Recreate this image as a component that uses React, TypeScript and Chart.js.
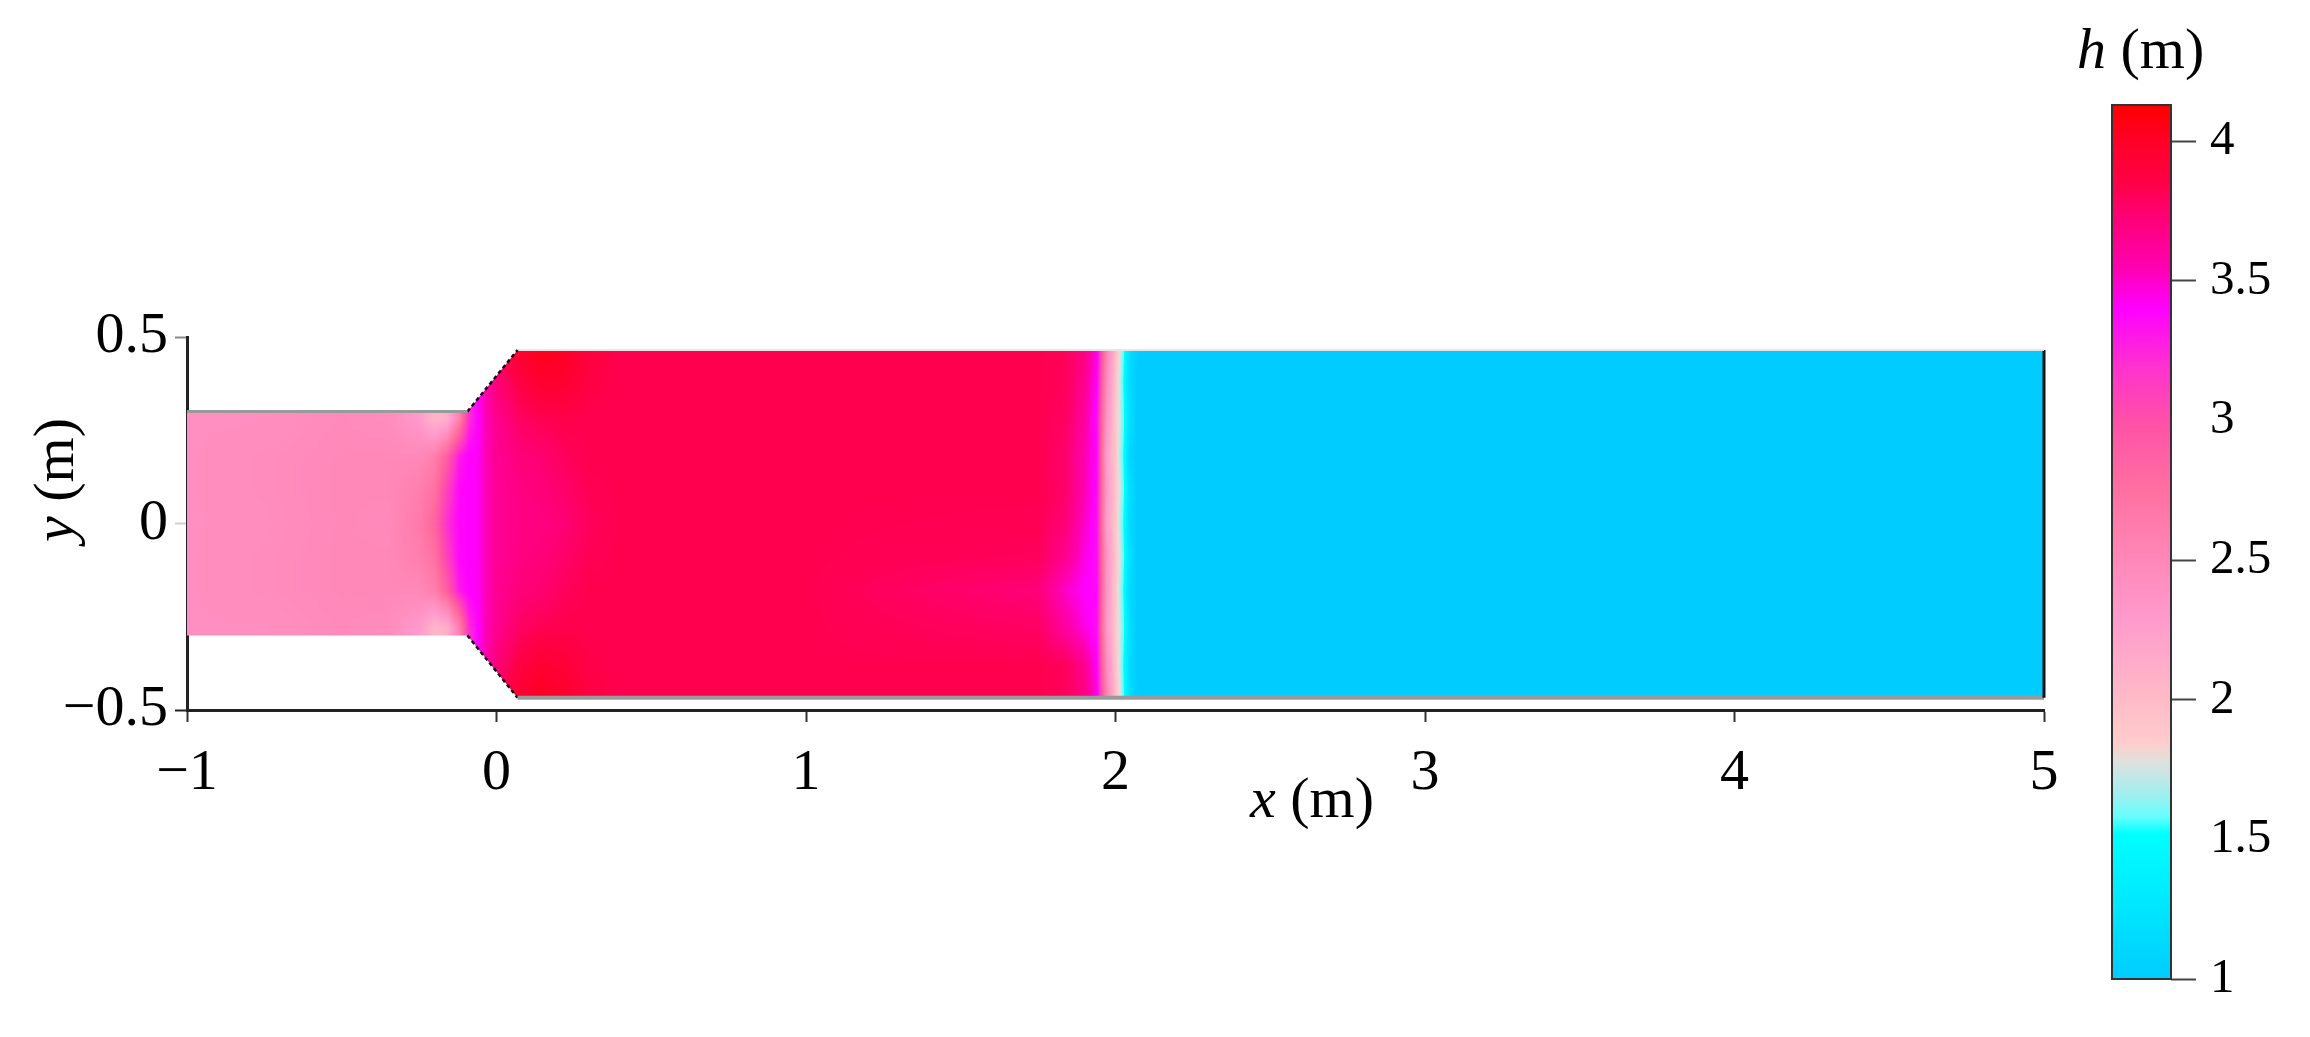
import React, { useEffect, useRef } from "react";
import { Chart, registerables } from "chart.js";
Chart.register(...registerables);

const FONT = "'Liberation Serif', 'Times New Roman', serif";

// axis ticks
const xTicks = [-1, 0, 1, 2, 3, 4, 5];
const yTicks = [-0.5, 0, 0.5];
const cbTicks = [1, 1.5, 2, 2.5, 3, 3.5, 4];
const cbHiddenTicks = [1.5, 3];
const cbMin = 1;
const cbMax = 4.13;

// colour map (h value -> colour)
const cmapValues = [1.0, 1.25, 1.52, 1.58, 1.66, 1.72, 1.78, 1.85, 2.0, 2.3, 2.5, 2.75, 3.0, 3.2, 3.4, 3.55, 3.7, 3.85, 4.0, 4.13];
const cmapColors = ["#00ccff", "#00e6ff", "#00ffff", "#66ffff", "#a0eeee", "#c0e8e8", "#e0e0dc", "#ffcccc", "#ffbbc8", "#ff99cc", "#ff88b8", "#ff70a0", "#ff50a8", "#ff30d0", "#ff00ff", "#ff00b0", "#ff0080", "#ff0048", "#ff0028", "#ff0000"];

// channel outline (x, y in m)
const channelX = [-1, -0.094, 0.068, 5, 5, 0.068, -0.094, -1];
const channelY = [0.3, 0.3, 0.465, 0.465, -0.467, -0.467, -0.3, -0.3];

// depth field h (m) sampled on nodes
const fieldX = [-1, -0.75, -0.5, -0.35, -0.25, -0.2, -0.16, -0.12, -0.09, -0.06, -0.03, 0, 0.04, 0.08, 0.15, 0.22, 0.3, 0.4, 1.0, 1.75, 1.84, 1.9, 1.94, 1.97, 2.0, 2.025, 2.045, 2.07, 2.12, 5];
const fieldY = [0.47, 0.38, 0.28, 0.18, 0.09, 0, -0.09, -0.18, -0.28, -0.38, -0.47];
const hRowP047 = [2.42, 2.42, 2.45, 2.45, 2.2, 2.05, 2.1, 2.5, 3.1, 3.4, 3.6, 3.75, 3.9, 4.0, 4.05, 4.02, 3.9, 3.83, 3.83, 3.83, 3.8, 3.7, 3.45, 2.6, 2.0, 1.6, 1.2, 1.02, 1.0, 1.0];
const hRowP038 = [2.42, 2.42, 2.48, 2.45, 2.3, 2.05, 2.1, 2.6, 3.1, 3.4, 3.6, 3.72, 3.8, 3.88, 3.97, 3.96, 3.87, 3.83, 3.83, 3.83, 3.8, 3.65, 3.4, 2.5, 1.95, 1.55, 1.15, 1.0, 1.0, 1.0];
const hRowP028 = [2.42, 2.42, 2.48, 2.45, 2.3, 2.05, 2.1, 2.6, 3.2, 3.4, 3.55, 3.65, 3.72, 3.78, 3.82, 3.84, 3.83, 3.83, 3.83, 3.83, 3.78, 3.6, 3.35, 2.4, 1.9, 1.6, 1.2, 1.0, 1.0, 1.0];
const hRowP018 = [2.42, 2.45, 2.5, 2.5, 2.5, 2.6, 2.9, 3.3, 3.4, 3.42, 3.55, 3.64, 3.68, 3.72, 3.74, 3.8, 3.83, 3.83, 3.83, 3.83, 3.75, 3.55, 3.38, 2.3, 1.9, 1.55, 1.1, 1.0, 1.0, 1.0];
const hRowP009 = [2.42, 2.45, 2.5, 2.5, 2.6, 2.75, 3.1, 3.38, 3.4, 3.42, 3.55, 3.63, 3.66, 3.7, 3.72, 3.76, 3.82, 3.83, 3.83, 3.83, 3.76, 3.55, 3.36, 2.35, 1.95, 1.6, 1.2, 1.0, 1.0, 1.0];
const hRow000 = [2.42, 2.44, 2.5, 2.48, 2.65, 2.85, 3.2, 3.38, 3.4, 3.42, 3.55, 3.63, 3.66, 3.69, 3.7, 3.73, 3.8, 3.83, 3.83, 3.82, 3.72, 3.5, 3.35, 2.3, 1.9, 1.55, 1.15, 1.0, 1.0, 1.0];
const hRowM009 = [2.42, 2.45, 2.5, 2.5, 2.6, 2.75, 3.1, 3.38, 3.4, 3.42, 3.55, 3.63, 3.66, 3.7, 3.72, 3.76, 3.82, 3.83, 3.83, 3.8, 3.65, 3.45, 3.35, 2.4, 1.95, 1.6, 1.2, 1.0, 1.0, 1.0];
const hRowM018 = [2.42, 2.45, 2.5, 2.5, 2.5, 2.6, 2.9, 3.3, 3.4, 3.42, 3.55, 3.64, 3.68, 3.72, 3.74, 3.8, 3.83, 3.83, 3.83, 3.72, 3.5, 3.4, 3.38, 2.4, 1.9, 1.55, 1.15, 1.0, 1.0, 1.0];
const hRowM028 = [2.42, 2.42, 2.48, 2.45, 2.3, 2.05, 2.1, 2.6, 3.2, 3.4, 3.55, 3.65, 3.72, 3.78, 3.82, 3.84, 3.83, 3.83, 3.83, 3.78, 3.6, 3.45, 3.35, 2.35, 1.9, 1.6, 1.2, 1.0, 1.0, 1.0];
const hRowM038 = [2.42, 2.42, 2.48, 2.45, 2.3, 2.05, 2.1, 2.6, 3.1, 3.4, 3.6, 3.72, 3.8, 3.88, 3.95, 3.92, 3.85, 3.83, 3.83, 3.83, 3.8, 3.65, 3.4, 2.5, 1.95, 1.55, 1.15, 1.0, 1.0, 1.0];
const hRowM047 = [2.42, 2.42, 2.45, 2.45, 2.2, 2.05, 2.1, 2.5, 3.1, 3.4, 3.6, 3.75, 3.88, 3.98, 4.03, 3.98, 3.88, 3.83, 3.83, 3.83, 3.8, 3.7, 3.45, 2.6, 2.0, 1.6, 1.2, 1.02, 1.0, 1.0];
const fieldRows = [hRowP047, hRowP038, hRowP028, hRowP018, hRowP009, hRow000, hRowM009, hRowM018, hRowM028, hRowM038, hRowM047];

function fmt(v: number): string {
  return v < 0 ? "\u2212" + String(Math.abs(v)) : String(v);
}

function hexToRgb(h: string): number[] {
  const n = parseInt(h.slice(1), 16);
  return [(n >> 16) & 255, (n >> 8) & 255, n & 255];
}

function buildLut(n: number): Uint8ClampedArray {
  const lut = new Uint8ClampedArray(n * 3);
  const rgbs = cmapColors.map(hexToRgb);
  for (let k = 0; k < n; k++) {
    const v = cbMin + (k / (n - 1)) * (cbMax - cbMin);
    let i = 0;
    while (i < cmapValues.length - 2 && v > cmapValues[i + 1]) i++;
    let t = (v - cmapValues[i]) / (cmapValues[i + 1] - cmapValues[i]);
    t = Math.max(0, Math.min(1, t));
    for (let c = 0; c < 3; c++) lut[k * 3 + c] = rgbs[i][c] + (rgbs[i + 1][c] - rgbs[i][c]) * t;
  }
  return lut;
}

function locate(arr: number[], v: number): [number, number] {
  const n = arr.length;
  if (v <= arr[0]) return [0, 0];
  if (v >= arr[n - 1]) return [n - 2, 1];
  let i = 0;
  while (i < n - 2 && v > arr[i + 1]) i++;
  return [i, (v - arr[i]) / (arr[i + 1] - arr[i])];
}

const fieldPlugin = {
  id: "field",
  beforeDatasetsDraw(chart: any) {
    const { ctx, scales } = chart;
    const xs = scales.x, ys = scales.y;
    const x0 = Math.floor(xs.getPixelForValue(-1));
    const x1 = Math.ceil(xs.getPixelForValue(5));
    const y0 = Math.floor(ys.getPixelForValue(0.5));
    const y1 = Math.ceil(ys.getPixelForValue(-0.5));
    const w = x1 - x0, h = y1 - y0;
    const off = document.createElement("canvas");
    off.width = w; off.height = h;
    const octx = off.getContext("2d")!;
    const img = octx.createImageData(w, h);
    const lutN = 1024;
    const lut = buildLut(lutN);
    const yAsc = fieldY.slice().reverse();
    const rowsAsc = fieldRows.slice().reverse();
    const ci = new Int32Array(w), ct = new Float32Array(w);
    for (let px = 0; px < w; px++) {
      const [i, t] = locate(fieldX, xs.getValueForPixel(x0 + px + 0.5));
      ci[px] = i; ct[px] = t;
    }
    for (let py = 0; py < h; py++) {
      const [j, u] = locate(yAsc, ys.getValueForPixel(y0 + py + 0.5));
      const ra = rowsAsc[j], rb = rowsAsc[j + 1];
      for (let px = 0; px < w; px++) {
        const i = ci[px], t = ct[px];
        const va = ra[i] + (ra[i + 1] - ra[i]) * t;
        const vb = rb[i] + (rb[i + 1] - rb[i]) * t;
        const v = va + (vb - va) * u;
        let k = Math.round(((v - cbMin) / (cbMax - cbMin)) * (lutN - 1));
        k = Math.max(0, Math.min(lutN - 1, k));
        const o = (py * w + px) * 4;
        img.data[o] = lut[k * 3];
        img.data[o + 1] = lut[k * 3 + 1];
        img.data[o + 2] = lut[k * 3 + 2];
        img.data[o + 3] = 255;
      }
    }
    octx.putImageData(img, 0, 0);
    ctx.save();
    ctx.beginPath();
    for (let k = 0; k < channelX.length; k++) {
      const px = xs.getPixelForValue(channelX[k]);
      const py = ys.getPixelForValue(channelY[k]);
      if (k === 0) ctx.moveTo(px, py); else ctx.lineTo(px, py);
    }
    ctx.closePath();
    ctx.clip();
    ctx.drawImage(off, x0, y0);
    ctx.restore();
  },
};

const titlePlugin = {
  id: "titles",
  afterDraw(chart: any) {
    const ctx = chart.ctx;
    ctx.save();
    ctx.fillStyle = "#000";
    ctx.textBaseline = "alphabetic";
    ctx.textAlign = "left";
    // x title
    ctx.font = `italic 58px ${FONT}`;
    ctx.fillText("x", 1250, 817);
    let wx = ctx.measureText("x").width;
    ctx.font = `58px ${FONT}`;
    ctx.fillText(" (m)", 1250 + wx, 817);
    // y title
    ctx.translate(73, 542);
    ctx.rotate(-Math.PI / 2);
    ctx.font = `italic 58px ${FONT}`;
    ctx.fillText("y", 0, 0);
    wx = ctx.measureText("y").width;
    ctx.font = `58px ${FONT}`;
    ctx.fillText(" (m)", wx, 0);
    ctx.restore();
  },
};

const colorbarPlugin = {
  id: "colorbar",
  beforeDatasetsDraw(chart: any) {
    const { ctx, chartArea: a, scales } = chart;
    const ys = scales.y;
    const pb = ys.getPixelForValue(cbMin), pt = ys.getPixelForValue(cbMax);
    const g = ctx.createLinearGradient(0, pb, 0, pt);
    cmapValues.forEach((v, i) => g.addColorStop((v - cbMin) / (cbMax - cbMin), cmapColors[i]));
    ctx.save();
    ctx.fillStyle = g;
    ctx.fillRect(a.left, pt, a.right - a.left, pb - pt);
    ctx.strokeStyle = "#333";
    ctx.lineWidth = 2;
    ctx.strokeRect(a.left, pt, a.right - a.left, pb - pt);
    // title
    ctx.fillStyle = "#000";
    ctx.textBaseline = "alphabetic";
    ctx.textAlign = "left";
    ctx.font = `italic 58px ${FONT}`;
    ctx.fillText("h", 17, 68);
    const w = ctx.measureText("h").width;
    ctx.font = `58px ${FONT}`;
    ctx.fillText(" (m)", 17 + w, 68);
    ctx.restore();
  },
};

function seg(i: number, j: number) {
  return [
    { x: channelX[i], y: channelY[i] },
    { x: channelX[j], y: channelY[j] },
  ];
}

export default function App() {
  const mainRef = useRef<HTMLCanvasElement>(null);
  const cbRef = useRef<HTMLCanvasElement>(null);

  useEffect(() => {
    document.body.style.margin = "0";
    document.body.style.overflow = "hidden";
    const lineDs = (data: any, color: string, width: number, dash: number[] = []) => ({
      data,
      showLine: true,
      borderColor: color,
      borderWidth: width,
      borderDash: dash,
      pointRadius: 0,
      fill: false,
      clip: false as any,
    });
    const main = new Chart(mainRef.current!, {
      type: "scatter",
      data: {
        datasets: [
          lineDs(seg(0, 1), "#9a9a9a", 3),
          lineDs(seg(1, 2), "#111", 2.5, [4, 3]),
          lineDs(seg(2, 3), "#e6e6e6", 2),
          lineDs(seg(3, 4), "#111", 3),
          lineDs(seg(4, 5), "#9a9a9a", 4),
          lineDs(seg(6, 5), "#111", 2.5, [4, 3]),
        ] as any,
      },
      options: {
        responsive: false,
        animation: false,
        layout: { padding: { left: 0, top: 337, right: 36, bottom: 0 } },
        plugins: { legend: { display: false }, tooltip: { enabled: false } },
        scales: {
          x: {
            type: "linear",
            min: -1,
            max: 5,
            afterBuildTicks: (s: any) => { s.ticks = xTicks.map((v) => ({ value: v })); },
            afterFit: (s: any) => { s.height = 327; },
            ticks: { font: { family: FONT, size: 58 }, color: "#000", padding: 17, maxRotation: 0, autoSkip: false, callback: (v: any) => fmt(Number(v)) },
            grid: { drawOnChartArea: false, drawTicks: true, tickLength: 12, tickColor: "#333", tickWidth: 2 },
            border: { display: true, color: "#222", width: 3 },
          },
          y: {
            type: "linear",
            min: -0.5,
            max: 0.5,
            afterBuildTicks: (s: any) => { s.ticks = yTicks.map((v) => ({ value: v })); },
            afterFit: (s: any) => { s.width = 187; },
            ticks: { font: { family: FONT, size: 58 }, color: "#000", padding: 7, autoSkip: false, callback: (v: any) => fmt(Number(v)) },
            grid: {
              drawOnChartArea: false,
              drawTicks: true,
              tickLength: 12,
              tickWidth: 2,
              tickColor: (c: any) => (c.tick && c.tick.value === 0 ? "#d0d0d0" : c.tick && c.tick.value > 0 ? "#888" : "#222"),
            },
            border: { display: true, color: "#222", width: 3 },
          },
        },
      },
      plugins: [fieldPlugin, titlePlugin],
    } as any);

    const cb = new Chart(cbRef.current!, {
      type: "scatter",
      data: { datasets: [] },
      options: {
        responsive: false,
        animation: false,
        layout: { padding: { left: 52, top: 105, bottom: 58, right: 0 } },
        plugins: { legend: { display: false }, tooltip: { enabled: false } },
        scales: {
          x: { display: false, min: 0, max: 1 },
          y: {
            position: "right",
            min: cbMin,
            max: cbMax,
            afterBuildTicks: (s: any) => { s.ticks = cbTicks.map((v) => ({ value: v })); },
            afterFit: (s: any) => { s.width = 139; },
            ticks: { font: { family: FONT, size: 49 }, color: "#000", padding: 14, autoSkip: false, callback: (v: any) => String(v) },
            grid: {
              drawOnChartArea: false,
              drawTicks: true,
              tickLength: 25,
              tickWidth: 2,
              tickColor: (c: any) => (c.tick && cbHiddenTicks.includes(c.tick.value) ? "rgba(0,0,0,0)" : "#444"),
            },
            border: { display: false },
          },
        },
      },
      plugins: [colorbarPlugin],
    } as any);

    return () => {
      main.destroy();
      cb.destroy();
    };
  }, []);

  return (
    <div style={{ position: "relative", width: 2310, height: 1037, background: "#fff", overflow: "hidden" }}>
      <canvas ref={mainRef} width={2080} height={1037} style={{ position: "absolute", left: 0, top: 0, width: 2080, height: 1037 }} />
      <canvas ref={cbRef} width={250} height={1037} style={{ position: "absolute", left: 2060, top: 0, width: 250, height: 1037 }} />
    </div>
  );
}
